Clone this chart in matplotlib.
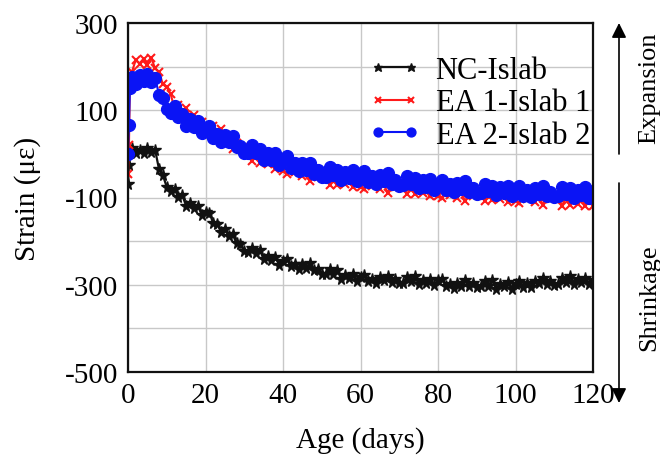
import numpy as np
import matplotlib
matplotlib.use("Agg")
import matplotlib.pyplot as plt
from matplotlib.ticker import MultipleLocator
from matplotlib.patches import FancyArrowPatch

plt.rcParams['font.family'] = ['Liberation Serif', 'DejaVu Serif']
plt.rcParams['axes.unicode_minus'] = False

# ---- data ----
early_age = [0, 0.25, 0.5]
late_age = list(range(1, 121))
age = np.array(early_age + late_age, dtype=float)

nc_islab = [-70, -25, 2,
    13, 1, 10, 3, 14, 5,
    9, -35, -49, -76,
    -86, -81, -99, -95, -119, -113, -125, -119, -139, -133,
    -135, -159, -160, -179, -173, -188, -184, -205, -207, -222,
    -224, -215, -228, -220, -241, -233, -243, -236, -254, -245,
    -241, -258, -253, -263, -252, -261, -251, -267, -263, -275,
    -275, -264, -276, -266, -287, -277, -285, -276, -292, -282,
    -277, -292, -286, -295, -283, -290, -279, -293, -287, -296,
    -295, -282, -292, -280, -299, -288, -295, -286, -301, -290,
    -286, -303, -298, -308, -296, -303, -290, -303, -296, -305,
    -304, -292, -302, -290, -309, -298, -304, -294, -309, -298,
    -291, -305, -297, -305, -291, -297, -284, -298, -291, -300,
    -298, -284, -293, -281, -298, -287, -294, -284, -299, -288]

ea1_islab1 = [-45, 20, 170,
    188, 215, 207, 218, 204, 220,
    196, 187, 160, 153,
    137, 105, 112, 90, 105, 81, 89, 65, 74, 57,
    48, 65, 47, 58, 32, 38, 11, 25, 11, 16,
    10, -16, -3, -21, -3, -24, -13, -35, -24, -39,
    -45, -26, -41, -28, -51, -41, -62, -43, -52, -43,
    -47, -71, -55, -71, -50, -70, -57, -77, -64, -77,
    -81, -60, -74, -59, -81, -69, -89, -69, -77, -67,
    -70, -93, -77, -92, -71, -90, -77, -97, -84, -97,
    -101, -80, -94, -79, -101, -89, -109, -89, -96, -86,
    -85, -108, -92, -106, -85, -104, -90, -110, -96, -109,
    -112, -91, -104, -89, -110, -98, -117, -97, -104, -94,
    -96, -119, -102, -117, -95, -114, -100, -120, -106, -119]

ea2_islab2 = [0, 67, 150,
    177, 161, 181, 167, 184, 165,
    174, 136, 128, 103,
    93, 109, 85, 92, 65, 79, 61, 75, 48, 57,
    63, 36, 46, 27, 44, 27, 42, 15, 19, 2,
    1, 21, 1, 11, -14, 2, -14, 1, -25, -14,
    -6, -32, -21, -39, -21, -36, -20, -45, -38, -52,
    -52, -30, -48, -36, -59, -41, -55, -38, -62, -49,
    -40, -64, -51, -68, -48, -62, -44, -68, -60, -73,
    -72, -50, -68, -56, -79, -61, -75, -58, -82, -68,
    -59, -83, -70, -87, -67, -81, -63, -87, -79, -92,
    -90, -68, -85, -73, -95, -77, -90, -73, -96, -83,
    -73, -96, -83, -99, -78, -91, -73, -96, -87, -99,
    -97, -75, -92, -79, -101, -82, -95, -77, -100, -86]

labels = ['NC-Islab', 'EA 1-Islab 1', 'EA 2-Islab 2']
x_ticks = [0, 20, 40, 60, 80, 100, 120]
y_ticks = [-500, -300, -100, 100, 300]

# ---- figure ----
fig = plt.figure(figsize=(6.6, 4.6), dpi=100)
ax = fig.add_axes([128/660, 1-373/460, (593-128)/660, (373-24)/460])

ax.plot(age, nc_islab, color='#111111', marker='*', markersize=8.5, mew=1.0, lw=1.6, label=labels[0])
ax.plot(age, ea1_islab1, color='#ff1a1a', marker='x', markersize=6, mew=1.5, lw=1.5, label=labels[1])
ax.plot(age, ea2_islab2, color='#0a14f5', marker='o', markersize=8.5, lw=1.5, label=labels[2])

ax.set_xlim(0, 120)
ax.set_ylim(-500, 300)
ax.set_xticks(x_ticks)
ax.set_yticks(y_ticks)
ax.yaxis.set_minor_locator(MultipleLocator(100))
ax.grid(True, which='both', color='#c8c8c8', lw=1.0)
ax.set_axisbelow(True)
ax.tick_params(which='both', length=0, labelsize=21, pad=7)
for s in ax.spines.values():
    s.set_linewidth(1.6)
    s.set_color('#111111')

ax.set_xlabel('Age (days)', fontsize=21, labelpad=13)
ax.set_ylabel('Strain (\u03bc\u03b5)', fontsize=21, labelpad=17)

leg = ax.legend(loc='upper right', bbox_to_anchor=(1.0, 0.915), frameon=False,
                fontsize=22, numpoints=2, markerscale=0.75, handlelength=1.7,
                handletextpad=0.5, labelspacing=0.12, borderaxespad=0.0,
                borderpad=0.1)

# right-hand arrows and labels
ap = dict(arrowstyle='-|>', mutation_scale=22, color='black', lw=1.2, shrinkA=0, shrinkB=0)
fig.add_artist(FancyArrowPatch((619/660, 1-155/460), (619/660, 1-24/460),
               transform=fig.transFigure, **ap))
fig.add_artist(FancyArrowPatch((619/660, 1-184/460), (619/660, 1-404/460),
               transform=fig.transFigure, **ap))
fig.text(649/660, 1-88/460, 'Expansion', rotation=90, ha='center', va='center', fontsize=19)
fig.text(649/660, 1-298/460, 'Shrinkage', rotation=90, ha='center', va='center', fontsize=19)

fig.savefig('out.png', dpi=100)
